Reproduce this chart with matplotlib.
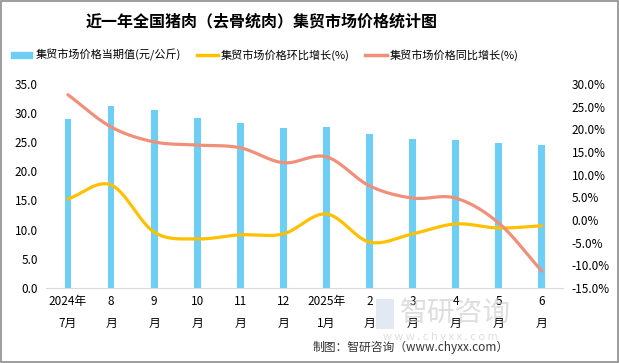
import numpy as np
import matplotlib.pyplot as plt
from matplotlib.patches import Rectangle
from matplotlib.ticker import FuncFormatter, MultipleLocator

plt.rcParams['font.family'] = ['Noto Sans CJK SC', 'DejaVu Sans']

months = ['2024年\n7月', '8\n月', '9\n月', '10\n月', '11\n月', '12\n月',
          '2025年\n1月', '2\n月', '3\n月', '4\n月', '5\n月', '6\n月']
price = [29.0, 31.2, 30.5, 29.2, 28.3, 27.4, 27.6, 26.4, 25.6, 25.4, 24.9, 24.5]
mom = [4.6, 7.7, -2.7, -4.2, -3.3, -3.1, 1.3, -4.9, -3.1, -0.9, -1.8, -1.3]
yoy = [27.6, 20.5, 17.2, 16.5, 15.9, 12.6, 13.9, 7.5, 4.8, 4.8, -0.7, -11.3]


def smooth(y, n=30):
    # Catmull-Rom curve through the points, like Excel's smoothed line
    y = np.asarray(y, float)
    p = np.concatenate([[2 * y[0] - y[1]], y, [2 * y[-1] - y[-2]]])
    xs, ys = [], []
    for i in range(len(y) - 1):
        t = np.linspace(0, 1, n, endpoint=False)
        p0, p1, p2, p3 = p[i], p[i + 1], p[i + 2], p[i + 3]
        v = 0.5 * ((2 * p1) + (-p0 + p2) * t + (2 * p0 - 5 * p1 + 4 * p2 - p3) * t ** 2
                   + (-p0 + 3 * p1 - 3 * p2 + p3) * t ** 3)
        xs.append(i + t)
        ys.append(v)
    xs.append([len(y) - 1])
    ys.append([y[-1]])
    return np.concatenate(xs), np.concatenate(ys)


fig = plt.figure(figsize=(6.19, 3.63), dpi=100)
ax = fig.add_axes([0.075, 0.207, 0.835, 0.562])
x = np.arange(len(months))

c_bar = '#6DCFF6'
c_mom = '#FFC000'
c_yoy = '#F0907A'

ax.bar(x, price, width=0.16, color=c_bar, zorder=2)
ax.set_ylim(0, 35)
ax.set_xlim(-0.5, len(months) - 0.5)
ax.yaxis.set_major_locator(MultipleLocator(5))
ax.yaxis.set_major_formatter(FuncFormatter(lambda v, p: f'{v:.1f}'))
ax.set_xticks(x)
ax.set_xticklabels(months, fontsize=8.5, linespacing=1.9)
ax.tick_params(length=0, labelsize=8.5, pad=6)
ax.tick_params(axis='x', pad=5)
for s in ['top', 'right', 'left']:
    ax.spines[s].set_visible(False)
ax.spines['bottom'].set_color('#d9d9d9')

ax2 = ax.twinx()
ax2.set_ylim(-15, 30)
ax2.yaxis.set_major_locator(MultipleLocator(5))
ax2.yaxis.set_major_formatter(FuncFormatter(lambda v, p: f'{v:.1f}%'))
ax2.tick_params(length=0, labelsize=8.5, pad=6)
for s in ax2.spines.values():
    s.set_visible(False)

sx, sy = smooth(mom)
ax2.plot(sx, sy, color=c_mom, lw=2.3, solid_capstyle='round', zorder=3)
sx, sy = smooth(yoy)
ax2.plot(sx, sy, color=c_yoy, lw=2.3, solid_capstyle='round', zorder=3)

# legend
h1 = Rectangle((0, 0), 1, 1, color=c_bar)
h2 = plt.Line2D([], [], color=c_mom, lw=2.5)
h3 = plt.Line2D([], [], color=c_yoy, lw=2.5)
fig.legend([h1, h2, h3],
           ['集贸市场价格当期值(元/公斤)', '集贸市场价格环比增长(%)', '集贸市场价格同比增长(%)'],
           loc='center left', bbox_to_anchor=(0.018, 0.848), ncol=3, frameon=False,
           fontsize=8, handlelength=1.9, handleheight=0.5, columnspacing=1.4,
           handletextpad=0.3, borderpad=0, borderaxespad=0)

fig.text(0.422, 0.94, '近一年全国猪肉（去骨统肉）集贸市场价格统计图', ha='center', va='center',
         fontsize=11.5, fontweight='bold')

# watermark
fig.text(0.735, 0.138, '智研咨询', fontsize=20, color='#c8c8c8', alpha=0.6,
         ha='center', va='center', zorder=0)
fig.text(0.712, 0.072, 'w w w . c h y x x . c o m', fontsize=8, color='#c8c8c8',
         alpha=0.6, ha='center', va='center', zorder=0)
fig.patches.append(Rectangle((0.607, 0.095), 0.03, 0.08, transform=fig.transFigure,
                             facecolor='#c8d4e6', alpha=0.5, edgecolor='none'))

fig.text(0.822, 0.042, '制图：智研咨询（www.chyxx.com）', fontsize=8.5, color='#333333',
         ha='right', va='center')

fig.patches.append(Rectangle((0.001, 0.002), 0.997, 0.995, transform=fig.transFigure,
                             fill=False, edgecolor='#8c8c8c', lw=1.2))

fig.savefig('out.png', dpi=100)
